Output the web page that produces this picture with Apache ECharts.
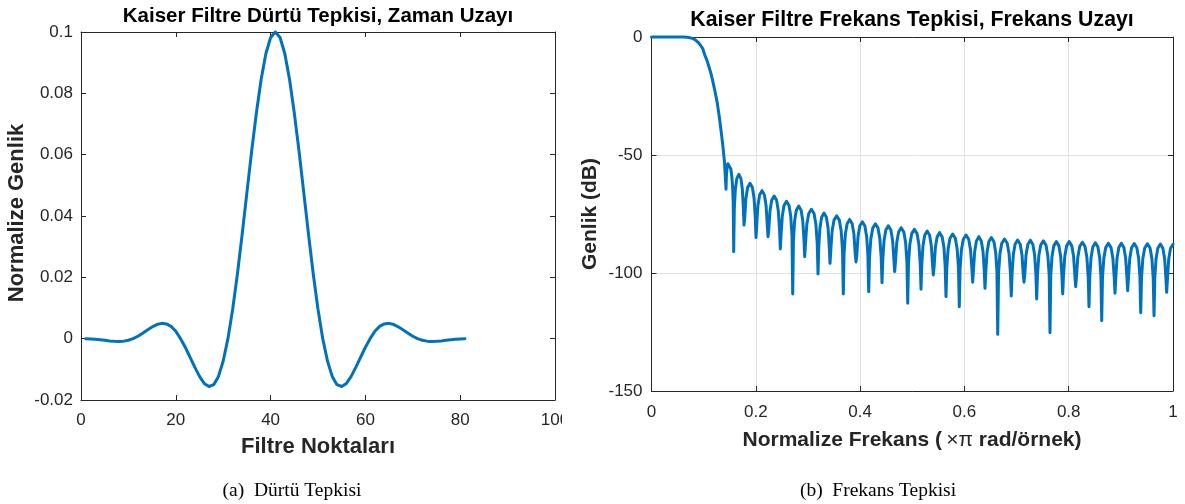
<!DOCTYPE html>
<html><head><meta charset="utf-8">
<script src="https://cdn.jsdelivr.net/npm/echarts@6/dist/echarts.min.js"></script>
<style>html,body{margin:0;padding:0;background:#fff;}#c{width:1185px;height:504px;}</style>
</head><body><div id="c"></div>
<script>
// Left: impulse response, taps 1..81
const impulse = [0,-0.00007,-0.0002,-0.00036,-0.00055,-0.00074,-0.00087,-0.00091,-0.00081,-0.00051,
0,0.0008,0.0018,0.0028,0.0038,0.0046,0.0050,0.0048,0.0040,0.0024,
0,-0.0028,-0.0060,-0.0093,-0.0123,-0.0146,-0.0156,-0.0150,-0.0123,-0.0073,
0,0.0096,0.0211,0.0340,0.0476,0.0611,0.0736,0.0845,0.0929,0.0982,0.1000,
0.0982,0.0929,0.0845,0.0736,0.0611,0.0476,0.0340,0.0211,0.0096,0,
-0.0073,-0.0123,-0.0150,-0.0156,-0.0146,-0.0123,-0.0093,-0.0060,-0.0028,0,
0.0024,0.0040,0.0048,0.0050,0.0046,0.0038,0.0028,0.0018,0.0008,0,
-0.00051,-0.00081,-0.00091,-0.00087,-0.00074,-0.00055,-0.00036,-0.0002,-0.00007,0];

// Right: frequency response [normalized freq, dB]
const passband = [[0,0],[0.02,0],[0.04,0],[0.055,0],[0.062,-0.03],[0.068,-0.1],[0.074,-0.35],[0.080,-0.7],
[0.085,-1.4],[0.090,-2.4],[0.094,-3.5],[0.098,-4.8],[0.102,-7.5],[0.106,-9.7],[0.110,-12.5],[0.114,-15.4],
[0.118,-19.2],[0.122,-23.3],[0.126,-27.8],[0.130,-33.8],[0.134,-40.8],[0.137,-46.5],[0.140,-53.0]];

const stopband = [[0.1429,-64.5],
[0.1436,-59.0],[0.1450,-55.0],[0.1465,-53.7],[0.1480,-53.5],[0.1500,-54.2],[0.1520,-55.8],[0.1540,-59.0],[0.1555,-63.5],[0.1567,-70.5],
[0.1576,-91.0],
[0.1588,-72.7],[0.1608,-64.5],[0.1635,-60.0],[0.1675,-58.2],[0.1715,-60.0],[0.1742,-64.5],[0.1762,-72.7],
[0.1774,-79.7],
[0.1788,-76.5],[0.1811,-68.3],[0.1843,-63.8],[0.1889,-62.0],[0.1935,-63.8],[0.1967,-68.3],[0.1990,-76.5],
[0.2004,-85.0],
[0.2018,-79.6],[0.2041,-71.4],[0.2073,-66.9],[0.2119,-65.1],[0.2165,-66.9],[0.2197,-71.4],[0.2220,-79.6],
[0.2234,-84.6],
[0.2248,-81.9],[0.2272,-73.7],[0.2305,-69.2],[0.2352,-67.4],[0.2399,-69.2],[0.2432,-73.7],[0.2456,-81.9],
[0.2470,-89.8],
[0.2484,-84.1],[0.2508,-75.9],[0.2541,-71.4],[0.2589,-69.6],[0.2637,-71.4],[0.2670,-75.9],[0.2694,-84.1],
[0.2708,-108.9],
[0.2722,-86.1],[0.2745,-77.9],[0.2777,-73.4],[0.2823,-71.6],[0.2869,-73.4],[0.2901,-77.9],[0.2924,-86.1],
[0.2938,-93.1],
[0.2953,-87.5],[0.2979,-79.3],[0.3015,-74.8],[0.3066,-73.0],[0.3117,-74.8],[0.3152,-79.3],[0.3178,-87.5],
[0.3193,-100.4],
[0.3207,-89.1],[0.3230,-80.9],[0.3262,-76.4],[0.3308,-74.6],[0.3354,-76.4],[0.3386,-80.9],[0.3409,-89.1],
[0.3423,-95.9],
[0.3438,-90.3],[0.3464,-82.1],[0.3500,-77.6],[0.3551,-75.8],[0.3602,-77.6],[0.3637,-82.1],[0.3663,-90.3],
[0.3678,-108.9],
[0.3693,-91.8],[0.3717,-83.6],[0.3751,-79.1],[0.3800,-77.3],[0.3848,-79.1],[0.3882,-83.6],[0.3906,-91.8],
[0.3921,-95.3],
[0.3936,-92.8],[0.3960,-84.6],[0.3994,-80.1],[0.4043,-78.3],[0.4092,-80.1],[0.4126,-84.6],[0.4150,-92.8],
[0.4165,-107.9],
[0.4180,-93.7],[0.4206,-85.5],[0.4242,-81.0],[0.4293,-79.2],[0.4344,-81.0],[0.4379,-85.5],[0.4405,-93.7],
[0.4420,-104.1],
[0.4435,-94.5],[0.4459,-86.3],[0.4493,-81.8],[0.4542,-80.0],[0.4590,-81.8],[0.4624,-86.3],[0.4648,-94.5],
[0.4663,-99.4],
[0.4678,-95.3],[0.4703,-87.1],[0.4738,-82.6],[0.4788,-80.8],[0.4838,-82.6],[0.4873,-87.1],[0.4898,-95.3],
[0.4913,-112.8],
[0.4928,-96.0],[0.4954,-87.8],[0.4990,-83.3],[0.5041,-81.5],[0.5092,-83.3],[0.5127,-87.8],[0.5153,-96.0],
[0.5168,-106.9],
[0.5182,-96.7],[0.5206,-88.5],[0.5239,-84.0],[0.5286,-82.2],[0.5333,-84.0],[0.5366,-88.5],[0.5390,-96.7],
[0.5404,-100.8],
[0.5419,-97.4],[0.5443,-89.2],[0.5477,-84.7],[0.5526,-82.9],[0.5574,-84.7],[0.5608,-89.2],[0.5632,-97.4],
[0.5647,-110.0],
[0.5662,-98.0],[0.5688,-89.8],[0.5724,-85.3],[0.5775,-83.5],[0.5826,-85.3],[0.5861,-89.8],[0.5887,-98.0],
[0.5902,-114.3],
[0.5917,-98.4],[0.5943,-90.2],[0.5979,-85.7],[0.6031,-83.9],[0.6082,-85.7],[0.6118,-90.2],[0.6144,-98.4],
[0.6159,-103.9],
[0.6173,-99.1],[0.6197,-90.9],[0.6230,-86.4],[0.6277,-84.6],[0.6324,-86.4],[0.6357,-90.9],[0.6381,-99.1],
[0.6395,-106.5],
[0.6410,-99.5],[0.6434,-91.3],[0.6468,-86.8],[0.6517,-85.0],[0.6566,-86.8],[0.6600,-91.3],[0.6624,-99.5],
[0.6639,-126.0],
[0.6655,-100.1],[0.6681,-91.9],[0.6717,-87.4],[0.6769,-85.6],[0.6821,-87.4],[0.6857,-91.9],[0.6883,-100.1],
[0.6899,-109.7],
[0.6914,-100.5],[0.6938,-92.3],[0.6972,-87.8],[0.7021,-86.0],[0.7070,-87.8],[0.7104,-92.3],[0.7128,-100.5],
[0.7143,-103.9],
[0.7158,-100.6],[0.7182,-92.4],[0.7216,-87.9],[0.7265,-86.1],[0.7313,-87.9],[0.7347,-92.4],[0.7371,-100.6],
[0.7386,-111.0],
[0.7401,-100.9],[0.7427,-92.7],[0.7463,-88.2],[0.7514,-86.4],[0.7565,-88.2],[0.7600,-92.7],[0.7626,-100.9],
[0.7641,-125.3],
[0.7656,-101.2],[0.7680,-93.0],[0.7714,-88.5],[0.7763,-86.7],[0.7812,-88.5],[0.7846,-93.0],[0.7870,-101.2],
[0.7885,-108.9],
[0.7900,-101.2],[0.7925,-93.0],[0.7960,-88.5],[0.8010,-86.7],[0.8059,-88.5],[0.8094,-93.0],[0.8119,-101.2],
[0.8134,-105.8],
[0.8149,-101.5],[0.8175,-93.3],[0.8211,-88.8],[0.8262,-87.0],[0.8313,-88.8],[0.8348,-93.3],[0.8374,-101.5],
[0.8389,-114.3],
[0.8404,-101.7],[0.8428,-93.5],[0.8462,-89.0],[0.8511,-87.2],[0.8560,-89.0],[0.8594,-93.5],[0.8618,-101.7],
[0.8633,-120.2],
[0.8648,-101.9],[0.8674,-93.7],[0.8710,-89.2],[0.8761,-87.4],[0.8812,-89.2],[0.8847,-93.7],[0.8873,-101.9],
[0.8888,-108.6],
[0.8903,-101.9],[0.8927,-93.7],[0.8961,-89.2],[0.9010,-87.4],[0.9058,-89.2],[0.9092,-93.7],[0.9116,-101.9],
[0.9131,-107.5],
[0.9146,-102.0],[0.9171,-93.8],[0.9206,-89.3],[0.9256,-87.5],[0.9306,-89.3],[0.9341,-93.8],[0.9366,-102.0],
[0.9381,-116.8],
[0.9396,-102.1],[0.9422,-93.9],[0.9458,-89.4],[0.9509,-87.6],[0.9560,-89.4],[0.9595,-93.9],[0.9621,-102.1],
[0.9636,-118.1],
[0.9651,-102.2],[0.9675,-94.0],[0.9709,-89.5],[0.9758,-87.7],[0.9806,-89.5],[0.9840,-94.0],[0.9864,-102.2],
[0.9879,-108.2],
[0.9894,-102.3],[0.9918,-94.1],[0.9952,-89.6],[1.0,-87.8]];

const leftX = {min:0, max:100, interval:20};
const leftY = {min:-0.02, max:0.1, interval:0.02};
const rightX = {min:0, max:1, interval:0.2};
const rightY = {min:-150, max:0, interval:50};

const titles = ['Kaiser Filtre Dürtü Tepkisi, Zaman Uzayı', 'Kaiser Filtre Frekans Tepkisi, Frekans Uzayı'];
const xNames = ['Filtre Noktaları'];
const yNames = ['Normalize Genlik', 'Genlik (dB)'];
const captions = ['(a)  Dürtü Tepkisi', '(b)  Frekans Tepkisi'];

const AX = '#262626';
const FONT = '"Liberation Sans", Arial, Helvetica, sans-serif';
const SERIF = '"Liberation Serif", "Times New Roman", serif';
const BLUE = '#0072BD';
const fmt = v => String(parseFloat(Number(v).toFixed(4)));

function axis(grid, range, pos, showLabel, margin, split) {
  return Object.assign({
    gridIndex: grid, type: 'value', position: pos,
    axisLine: {show: true, onZero: false, lineStyle: {color: AX, width: 1}},
    axisTick: {show: true, inside: true, length: 5, lineStyle: {color: AX, width: 1}},
    axisLabel: {show: showLabel, color: AX, fontSize: 17, fontFamily: FONT, margin: margin, formatter: fmt},
    splitLine: {show: !!split, lineStyle: {color: '#e1e1e1', width: 1}}
  }, range);
}

const chart = echarts.init(document.getElementById('c'), null, {renderer: 'canvas'});
chart.setOption({
  animation: false,
  backgroundColor: '#fff',
  grid: [
    {left: 81, top: 32, width: 474, height: 368},
    {left: 651.5, top: 37, width: 521.5, height: 354}
  ],
  xAxis: [
    axis(0, leftX, 'bottom', true, 12, false),
    axis(0, leftX, 'top', false, 8, false),
    axis(1, rightX, 'bottom', true, 13, true),
    axis(1, rightX, 'top', false, 8, false)
  ],
  yAxis: [
    axis(0, leftY, 'left', true, 8, false),
    axis(0, leftY, 'right', false, 8, false),
    axis(1, rightY, 'left', true, 9, true),
    axis(1, rightY, 'right', false, 8, false)
  ],
  series: [
    {type: 'line', xAxisIndex: 0, yAxisIndex: 0, data: impulse.map((v, i) => [i + 1, v]),
     showSymbol: false, symbol: 'none', clip: false,
     lineStyle: {color: BLUE, width: 3, join: 'round', cap: 'round'}},
    {type: 'line', xAxisIndex: 2, yAxisIndex: 2, data: passband.concat(stopband),
     showSymbol: false, symbol: 'none', clip: false,
     lineStyle: {color: BLUE, width: 3, join: 'round', cap: 'round'}}
  ],
  graphic: [
    {type: 'rect', z: 100, shape: {x: 562, y: 404, width: 26, height: 32}, style: {fill: '#fff'}},
    {type: 'text', z: 101, x: 318, y: 16, style: {text: titles[0], font: 'bold 20.5px ' + FONT, fill: '#000', align: 'center', verticalAlign: 'middle'}},
    {type: 'text', z: 101, x: 912, y: 20, style: {text: titles[1], font: 'bold 21.3px ' + FONT, fill: '#000', align: 'center', verticalAlign: 'middle'}},
    {type: 'text', z: 101, x: 318, y: 447, style: {text: xNames[0], font: 'bold 22px ' + FONT, fill: AX, align: 'center', verticalAlign: 'middle'}},
    {type: 'text', z: 101, x: 912, y: 440, style: {
      text: '{b|Normalize Frekans (}{m|\u2009×}{m|π}{b| rad/örnek)}',
      rich: {
        b: {font: 'bold 21px ' + FONT, fill: AX},
        m: {font: '21px ' + FONT, fill: AX}
      },
      align: 'center', verticalAlign: 'middle'}},
    {type: 'text', z: 101, x: 17, y: 213, rotation: Math.PI / 2, style: {text: yNames[0], font: 'bold 22px ' + FONT, fill: AX, align: 'center', verticalAlign: 'middle'}},
    {type: 'text', z: 101, x: 590, y: 214, rotation: Math.PI / 2, style: {text: yNames[1], font: 'bold 21px ' + FONT, fill: AX, align: 'center', verticalAlign: 'middle'}},
    {type: 'text', z: 101, x: 292, y: 491, style: {text: captions[0], font: '19.5px ' + SERIF, fill: '#000', align: 'center', verticalAlign: 'middle'}},
    {type: 'text', z: 101, x: 878, y: 491, style: {text: captions[1], font: '19.5px ' + SERIF, fill: '#000', align: 'center', verticalAlign: 'middle'}}
  ]
});
</script></body></html>
